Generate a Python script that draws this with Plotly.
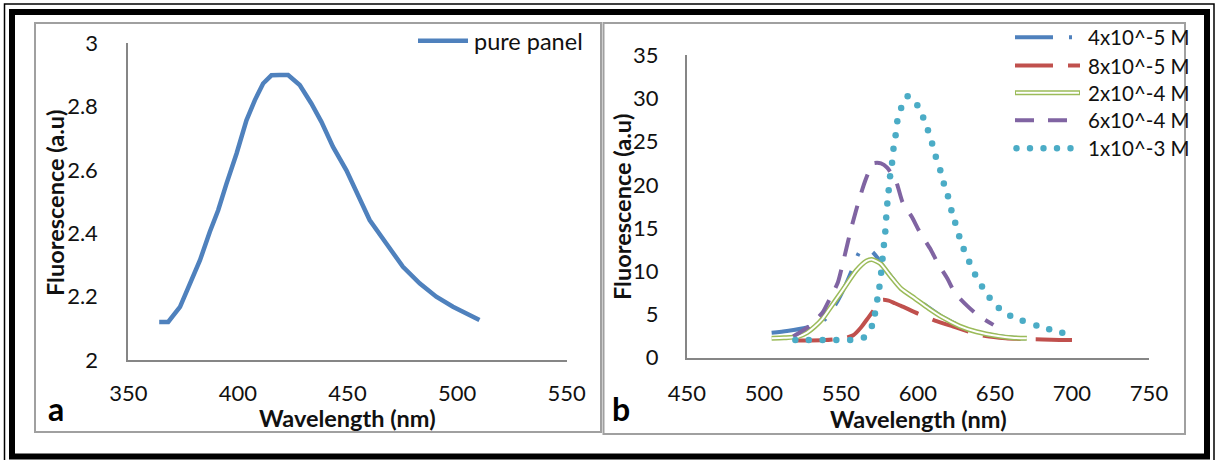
import plotly.graph_objects as go

W, H = 1215, 460

# ---------------- data ----------------
# panel a: pure panel
pure_x = [364.1, 368.2, 373.6, 378.1, 382.7, 387.2, 391.0, 394.8, 399.4, 403.9, 407.7,
          411.5, 415.3, 419.0, 422.9, 428.2, 433.5, 438.1, 443.4, 449.5, 455.6, 460.1,
          467.7, 475.3, 482.9, 490.5, 498.1, 504.2, 510.2]
pure_y = [2.12, 2.12, 2.168, 2.242, 2.315, 2.405, 2.473, 2.557, 2.652, 2.757, 2.820,
          2.873, 2.899, 2.90, 2.90, 2.868, 2.81, 2.752, 2.673, 2.599, 2.51, 2.442,
          2.368, 2.294, 2.242, 2.20, 2.168, 2.147, 2.126]

# panel b
s1_x = [505, 515, 528, 535, 540, 547, 553, 558, 562, 566, 570, 574, 578, 583, 587, 593,
        598, 607, 616, 627, 638, 652, 662, 670]
s1_y = [2.9, 3.1, 3.5, 3.9, 4.5, 6.3, 8.4, 10.5, 12.2, 12.5, 12.3, 11.5, 10.4, 9.3, 8.4,
        7.5, 6.9, 5.8, 4.7, 3.7, 3.0, 2.5, 2.3, 2.25]

s2_x = [520, 530, 540, 553, 558, 563, 568, 573, 577, 581, 585, 589, 600, 611, 623, 633,
        644, 657, 670, 681, 692, 700]
s2_y = [2.0, 2.0, 2.05, 2.3, 2.6, 3.5, 4.7, 5.9, 6.7, 6.6, 6.3, 6.0, 5.1, 4.3, 3.6, 3.0,
        2.5, 2.25, 2.15, 2.12, 2.05, 2.04]

s3_x = [505, 513, 522, 528, 533, 538, 542, 551, 560, 566.7, 570, 575.6, 582.3, 589, 598,
        607, 616, 627, 638, 652, 661, 670.7]
s3_y = [2.24, 2.3, 2.43, 2.9, 3.6, 4.5, 5.5, 7.8, 10.1, 11.2, 11.37, 10.9, 9.4, 8.0, 6.86,
        5.7, 4.66, 3.66, 3.0, 2.5, 2.31, 2.24]

s4_x = [519, 524, 529, 533, 538, 543, 548, 552, 557, 562, 566, 571, 576, 580, 586, 590,
        596, 601, 608, 613, 619, 624, 632, 639, 649]
s4_y = [2.45, 3.0, 3.6, 4.3, 5.2, 6.9, 8.7, 11.5, 15.2, 18.4, 20.6, 22.5, 22.5, 22.0, 20.3,
        18.0, 16.3, 14.6, 12.6, 10.9, 9.2, 7.5, 6.0, 4.9, 3.8]

s5_x = [520.4, 529.1, 538.1, 547.0, 556.0, 564.9, 570.1, 572.1, 573.6, 575.0, 576.1, 577.0,
        577.9, 578.8, 579.4, 580.1, 581.0, 581.9, 583.2, 584.1, 585.5, 586.6, 589.1, 593.3,
        599.6, 603.4, 606.5, 609.2, 611.6, 614.5, 616.8, 619.5, 621.7, 624.2, 626.8, 629.7,
        633.3, 637.1, 641.6, 646.5, 652.5, 659.9, 668.0, 676.9, 685.2, 693.7]
s5_y = [2.04, 2.04, 2.04, 2.04, 2.04, 2.35, 3.66, 5.13, 6.75, 8.21, 9.83, 11.45, 13.03,
        14.61, 16.23, 17.85, 19.39, 21.01, 22.55, 24.17, 25.75, 27.37, 28.91, 30.26, 29.22,
        27.79, 26.33, 24.79, 23.25, 21.70, 20.16, 18.70, 17.08, 15.61, 14.07, 12.57, 11.10,
        9.64, 8.25, 6.94, 5.74, 4.86, 4.28, 3.74, 3.28, 2.89]

series_names = ["4x10^-5 M", "8x10^-5 M", "2x10^-4 M", "6x10^-4 M", "1x10^-3 M"]
pure_name = "pure panel"

a_xticks = [350, 400, 450, 500, 550]
a_yticks = [2, 2.2, 2.4, 2.6, 2.8, 3]
a_yticktext = ["2", "2.2", "2.4", "2.6", "2.8", "3"]
b_xticks = [450, 500, 550, 600, 650, 700, 750]
b_yticks = [0, 5, 10, 15, 20, 25, 30, 35]

x_title = "Wavelength (nm)"
y_title = "Fluorescence (a.u)"
panel_labels = ["a", "b"]

# ---------------- styles ----------------
BLUE = "#4F81BD"
RED = "#C0504D"
GREEN = "#9BBB59"
PURPLE = "#8064A2"
CYAN = "#4BACC6"
AXIS = "#868686"
FRAME = "#A0A0A0"
FONT = "Lato"

DASH1 = "38px,16px,3px,16px"
DASH2 = "38px,15px"
DASH4 = "19px,14px"


def PX(px):
    return px / W


def PY(py):
    return 1 - py / H


fig = go.Figure()

fig.add_trace(go.Scatter(x=pure_x, y=pure_y, mode="lines", name=pure_name,
                         line=dict(color=BLUE, width=4.5), xaxis="x", yaxis="y",
                         showlegend=False))

fig.add_trace(go.Scatter(x=s1_x, y=s1_y, mode="lines", name=series_names[0],
                         line=dict(color=BLUE, width=4, dash=DASH1, shape="spline", smoothing=0.6),
                         xaxis="x2", yaxis="y2", showlegend=False))
fig.add_trace(go.Scatter(x=s2_x, y=s2_y, mode="lines", name=series_names[1],
                         line=dict(color=RED, width=4, dash=DASH2, shape="spline", smoothing=0.6),
                         xaxis="x2", yaxis="y2", showlegend=False))
fig.add_trace(go.Scatter(x=s3_x, y=s3_y, mode="lines", name=series_names[2],
                         line=dict(color=GREEN, width=5, shape="spline", smoothing=0.6),
                         xaxis="x2", yaxis="y2", showlegend=False))
fig.add_trace(go.Scatter(x=s3_x, y=s3_y, mode="lines", name=series_names[2] + " inner",
                         line=dict(color="white", width=2, shape="spline", smoothing=0.6),
                         xaxis="x2", yaxis="y2", showlegend=False, hoverinfo="skip"))
fig.add_trace(go.Scatter(x=s4_x, y=s4_y, mode="lines", name=series_names[3],
                         line=dict(color=PURPLE, width=4, dash=DASH4, shape="spline", smoothing=0.6),
                         xaxis="x2", yaxis="y2", showlegend=False))
fig.add_trace(go.Scatter(x=s5_x, y=s5_y, mode="markers", name=series_names[4],
                         marker=dict(color=CYAN, size=6.5, line=dict(width=0)),
                         xaxis="x2", yaxis="y2", showlegend=False))

tickfont = dict(family=FONT, size=22, color="#111111")
common = dict(showline=True, linecolor=AXIS, linewidth=2, showgrid=False, zeroline=False,
              ticks="", tickfont=tickfont, fixedrange=True, automargin=False)

fig.update_layout(
    width=W, height=H, autosize=False,
    margin=dict(l=0, r=0, t=0, b=0, pad=0),
    paper_bgcolor="white", plot_bgcolor="white",
    xaxis=dict(domain=[PX(128.3), PX(566.7)], range=[350, 550], tickvals=a_xticks,
               anchor="y", ticklabelstandoff=13, **common),
    yaxis=dict(domain=[PY(360), PY(43.3)], range=[2, 3], tickvals=a_yticks,
               ticktext=a_yticktext, anchor="x", ticklabelstandoff=24, **common),
    xaxis2=dict(domain=[PX(686.9), PX(1149)], range=[450, 750], tickvals=b_xticks,
                anchor="y2", ticklabelstandoff=15, **common),
    yaxis2=dict(domain=[PY(357.7), PY(55.3)], range=[0, 35], tickvals=b_yticks,
                anchor="x2", ticklabelstandoff=22, **common),
    showlegend=False,
)

shapes = []
# outer borders
shapes.append(dict(type="rect", xref="paper", yref="paper", x0=PX(4.5), x1=PX(1214), y0=PY(470),
                   y1=PY(4), line=dict(color="black", width=1.5)))
shapes.append(dict(type="rect", xref="paper", yref="paper", x0=PX(12), x1=PX(1207), y0=PY(456.5),
                   y1=PY(12), line=dict(color="black", width=6)))
# panel frames
shapes.append(dict(type="rect", xref="paper", yref="paper", x0=PX(35), x1=PX(601), y0=PY(432),
                   y1=PY(23), line=dict(color=FRAME, width=2)))
shapes.append(dict(type="rect", xref="paper", yref="paper", x0=PX(603.5), x1=PX(1185), y0=PY(434),
                   y1=PY(23), line=dict(color=FRAME, width=2)))

# legend panel a
shapes.append(dict(type="line", xref="paper", yref="paper", x0=PX(418), x1=PX(468), y0=PY(40.7),
                   y1=PY(40.7), line=dict(color=BLUE, width=4.5)))

# legend panel b
rows = [37.3, 65.5, 92.7, 120.2, 148.3]
lx0, lx1 = 1015, 1080
shapes.append(dict(type="line", xref="paper", yref="paper", x0=PX(lx0), x1=PX(lx1), y0=PY(rows[0]),
                   y1=PY(rows[0]), line=dict(color=BLUE, width=4, dash=DASH1)))
shapes.append(dict(type="line", xref="paper", yref="paper", x0=PX(lx0), x1=PX(lx1), y0=PY(rows[1]),
                   y1=PY(rows[1]), line=dict(color=RED, width=4, dash=DASH2)))
shapes.append(dict(type="line", xref="paper", yref="paper", x0=PX(lx0), x1=PX(lx1), y0=PY(rows[2]),
                   y1=PY(rows[2]), line=dict(color=GREEN, width=5)))
shapes.append(dict(type="line", xref="paper", yref="paper", x0=PX(lx0 + 1), x1=PX(lx1 - 1), y0=PY(rows[2]),
                   y1=PY(rows[2]), line=dict(color="white", width=2)))
shapes.append(dict(type="line", xref="paper", yref="paper", x0=PX(lx0), x1=PX(lx1), y0=PY(rows[3]),
                   y1=PY(rows[3]), line=dict(color=PURPLE, width=4, dash=DASH4)))
for cx in [1016.5, 1030, 1043.5, 1057, 1070.5]:
    shapes.append(dict(type="circle", xref="paper", yref="paper", x0=PX(cx - 3.2), x1=PX(cx + 3.2),
                       y0=PY(rows[4] + 3.2), y1=PY(rows[4] - 3.2), fillcolor=CYAN,
                       line=dict(width=0)))

fig.update_layout(shapes=shapes)

ann = []
legfont = dict(family=FONT, size=20.5, color="#111111")
ann.append(dict(xref="paper", yref="paper", x=PX(472), y=PY(41), text=pure_name, showarrow=False,
                xanchor="left", yanchor="middle", font=dict(family=FONT, size=23.5, color="#111111")))
for r, name in zip(rows, series_names):
    ann.append(dict(xref="paper", yref="paper", x=PX(1086), y=PY(r), text=name, showarrow=False,
                    xanchor="left", yanchor="middle", font=legfont))

titlefont = dict(family=FONT, size=23.5, color="#111111")
ann.append(dict(xref="paper", yref="paper", x=PX(347), y=PY(418), text="<b>" + x_title + "</b>",
                showarrow=False, xanchor="center", yanchor="middle", font=titlefont))
ann.append(dict(xref="paper", yref="paper", x=PX(918), y=PY(419), text="<b>" + x_title + "</b>",
                showarrow=False, xanchor="center", yanchor="middle", font=titlefont))
ann.append(dict(xref="paper", yref="paper", x=PX(55), y=PY(203), text="<b>" + y_title + "</b>",
                showarrow=False, textangle=-90, xanchor="center", yanchor="middle", font=titlefont))
ann.append(dict(xref="paper", yref="paper", x=PX(622), y=PY(207), text="<b>" + y_title + "</b>",
                showarrow=False, textangle=-90, xanchor="center", yanchor="middle", font=titlefont))

plabfont = dict(family=FONT, size=32, color="black")
ann.append(dict(xref="paper", yref="paper", x=PX(56), y=PY(408), text="<b>" + panel_labels[0] + "</b>",
                showarrow=False, xanchor="center", yanchor="middle", font=plabfont))
ann.append(dict(xref="paper", yref="paper", x=PX(621), y=PY(408), text="<b>" + panel_labels[1] + "</b>",
                showarrow=False, xanchor="center", yanchor="middle", font=plabfont))

fig.update_layout(annotations=ann)

fig.write_html("out.html", config={"displayModeBar": False},
               post_script="document.body.style.margin='0';document.body.style.overflow='hidden';")
